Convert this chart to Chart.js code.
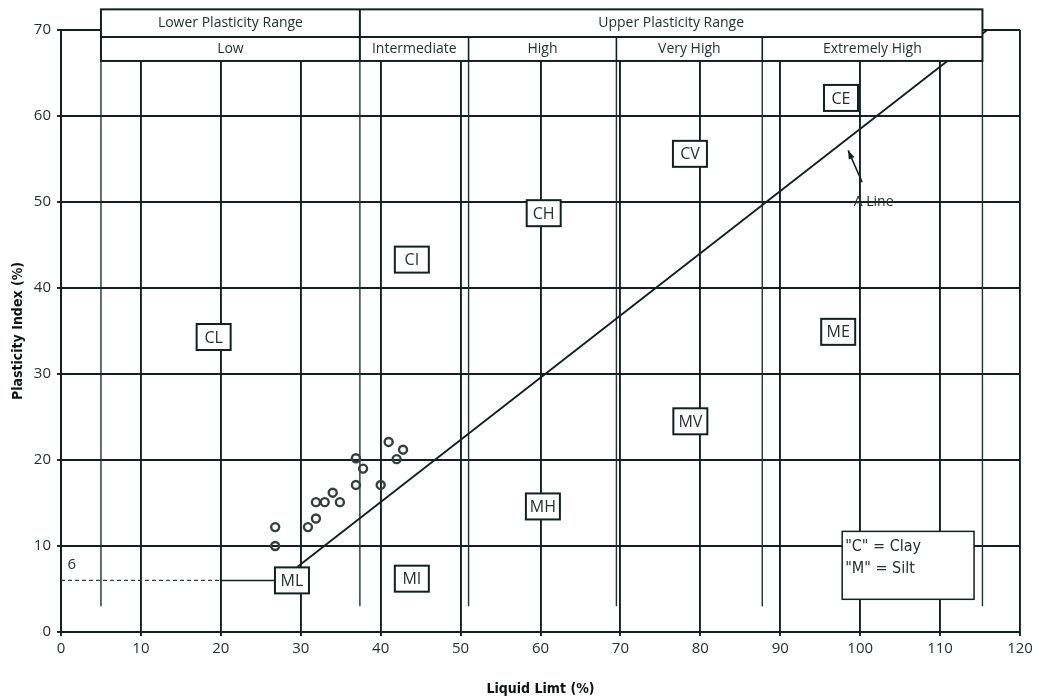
<!DOCTYPE html>
<html><head><meta charset="utf-8">
<script src="https://cdn.jsdelivr.net/npm/chart.js@4"></script>
<style>html,body{margin:0;padding:0;background:#fff}#wrap{width:1038px;height:700px}</style>
</head><body><div id="wrap"><canvas id="c" width="1038" height="700"></canvas></div>
<script>
// ---- data ----
const llValues = [26.8, 26.8, 30.9, 31.9, 31.9, 33.0, 34.0, 34.9, 36.9, 37.8, 36.9, 40.0, 41.0, 42.0, 42.8];
const piValues = [12.2, 10.0, 12.2, 13.2, 15.1, 15.1, 16.2, 15.1, 20.2, 19.0, 17.1, 17.1, 22.1, 20.1, 21.2];

const aLineLL = [29.6, 115.9];
const aLinePI = [7.6, 70];

const minPI = 6;
const minPIDashedLL = [0, 20];
const minPISolidLL = [20, 26.8];

const boundaryLL = [5, 37.4, 51, 69.5, 87.75, 115.3];
const boundaryPI = [3, 66.4];

const classLabels = ['CL', 'CI', 'CH', 'CV', 'CE', 'ME', 'MV', 'MH', 'MI', 'ML'];
const classLL = [19.1, 43.9, 60.4, 78.7, 97.6, 97.25, 78.75, 60.3, 43.9, 28.9];
const classPI = [34.3, 43.3, 48.7, 55.6, 62.1, 34.9, 24.5, 14.6, 6.2, 6.0];

const rangeTopLabels = ['Lower Plasticity Range', 'Upper Plasticity Range'];
const rangeTopLL = [5, 37.4, 115.3];
const rangeLabels = ['Low', 'Intermediate', 'High', 'Very High', 'Extremely High'];
const rangeLL = [5, 37.4, 51, 69.5, 87.75, 115.3];
const headerPI = [72.4, 69.2, 66.4];

const legendLines = ['"C" = Clay', '"M" = Silt'];
const xTickStep = 10;
const yTickStep = 10;

// ---- styles ----
const LINE = '#142020';
const TEXT = '#26302f';
const SANS = "'Open Sans', 'DejaVu Sans', sans-serif";
const NARROW = "'Liberation Sans Narrow', 'DejaVu Sans Condensed', sans-serif";

const pts = (xs, ys) => xs.map((x, i) => ({x, y: ys[i]}));
const lineDs = (data, extra) => Object.assign({
  data, showLine: true, pointRadius: 0, borderColor: LINE, borderWidth: 1.8, fill: false, order: 2
}, extra || {});

const datasets = [];
datasets.push({
  data: pts(llValues, piValues), pointStyle: 'circle', pointRadius: 4,
  pointBorderWidth: 2.4, borderColor: '#363e3e', backgroundColor: 'rgba(255,255,255,0)', showLine: false, order: 0
});
datasets.push(lineDs(pts(aLineLL, aLinePI), {borderWidth: 1.9}));
datasets.push(lineDs(pts(minPIDashedLL, [minPI, minPI]), {borderDash: [4, 3], borderWidth: 1.3, borderColor: '#344040'}));
datasets.push(lineDs(pts(minPISolidLL, [minPI, minPI]), {borderWidth: 1.5}));
boundaryLL.forEach(b => datasets.push(lineDs(pts([b, b], boundaryPI), {borderWidth: 1.4, borderColor: '#243030'})));

const overlay = {
  id: 'overlay',
  afterDatasetsDraw(chart) {
    const {ctx, scales: {x, y}} = chart;
    const X = v => x.getPixelForValue(v), Y = v => y.getPixelForValue(v);
    ctx.save();
    ctx.strokeStyle = LINE;
    ctx.fillStyle = TEXT;
    ctx.textAlign = 'center';
    ctx.textBaseline = 'middle';

    // header table
    const top = Y(headerPI[0]), mid = Y(headerPI[1]), bot = Y(headerPI[2]);
    ctx.fillStyle = '#fff';
    ctx.fillRect(X(rangeTopLL[0]), top, X(rangeTopLL[2]) - X(rangeTopLL[0]), bot - top);
    ctx.lineWidth = 2;
    ctx.strokeRect(X(rangeTopLL[0]), top, X(rangeTopLL[2]) - X(rangeTopLL[0]), bot - top);
    ctx.beginPath(); ctx.moveTo(X(rangeTopLL[0]), mid); ctx.lineTo(X(rangeTopLL[2]), mid); ctx.stroke();
    ctx.beginPath(); ctx.moveTo(X(rangeTopLL[1]), top); ctx.lineTo(X(rangeTopLL[1]), bot); ctx.stroke();
    ctx.lineWidth = 1.6;
    for (let i = 1; i < rangeLL.length - 1; i++) {
      if (rangeLL[i] === rangeTopLL[1]) continue;
      ctx.beginPath(); ctx.moveTo(X(rangeLL[i]), mid); ctx.lineTo(X(rangeLL[i]), bot); ctx.stroke();
    }
    ctx.fillStyle = TEXT;
    ctx.font = '14px ' + SANS;
    rangeTopLabels.forEach((t, i) => ctx.fillText(t, (X(rangeTopLL[i]) + X(rangeTopLL[i + 1])) / 2, (top + mid) / 2));
    rangeLabels.forEach((t, i) => ctx.fillText(t, (X(rangeLL[i]) + X(rangeLL[i + 1])) / 2, (mid + bot) / 2));

    // class label boxes
    ctx.font = '16px ' + SANS;
    classLabels.forEach((t, i) => {
      const cx = X(classLL[i]), cy = Y(classPI[i]), w = 34, h = 26;
      ctx.fillStyle = '#fff';
      ctx.fillRect(cx - w / 2, cy - h / 2, w, h);
      ctx.lineWidth = 2;
      ctx.strokeRect(cx - w / 2, cy - h / 2, w, h);
      ctx.fillStyle = TEXT;
      ctx.fillText(t, cx, cy + 1);
    });

    // legend box
    const lx0 = X(97.75), lx1 = X(114.25), ly0 = Y(11.7), ly1 = Y(3.8);
    ctx.fillStyle = '#fff';
    ctx.fillRect(lx0, ly0, lx1 - lx0, ly1 - ly0);
    ctx.lineWidth = 1.5;
    ctx.strokeRect(lx0, ly0, lx1 - lx0, ly1 - ly0);
    ctx.fillStyle = TEXT;
    ctx.textAlign = 'left';
    ctx.font = '16px ' + NARROW;
    legendLines.forEach((t, i) => ctx.fillText(t, lx0 + 3, ly0 + 15 + i * 22));

    // A Line label + arrow
    ctx.font = '14px ' + SANS;
    ctx.fillText('A Line', X(99.2), Y(50));
    const ax0 = X(100.25), ay0 = Y(52.3), ax1 = X(98.5), ay1 = Y(56.0);
    ctx.lineWidth = 1.6;
    ctx.beginPath(); ctx.moveTo(ax0, ay0); ctx.lineTo(ax1, ay1); ctx.stroke();
    const ang = Math.atan2(ay1 - ay0, ax1 - ax0);
    ctx.beginPath();
    ctx.moveTo(ax1, ay1);
    ctx.lineTo(ax1 - 9 * Math.cos(ang - 0.35), ay1 - 9 * Math.sin(ang - 0.35));
    ctx.lineTo(ax1 - 9 * Math.cos(ang + 0.35), ay1 - 9 * Math.sin(ang + 0.35));
    ctx.closePath();
    ctx.fillStyle = LINE; ctx.fill();

    // "6" label
    ctx.fillStyle = TEXT;
    ctx.font = '15px ' + SANS;
    ctx.textAlign = 'left';
    ctx.fillText(String(minPI), X(0.8), Y(7.8));
    ctx.restore();
  }
};

new Chart(document.getElementById('c'), {
  type: 'scatter',
  data: {datasets},
  options: {
    responsive: false, animation: false, events: [],
    layout: {padding: {top: 30, right: 18, left: 0, bottom: 0}},
    plugins: {legend: {display: false}, tooltip: {enabled: false}},
    scales: {
      x: {
        type: 'linear', min: 0, max: 120,
        afterFit: s => { s.height = 68; },
        ticks: {stepSize: xTickStep, color: TEXT, font: {family: SANS, size: 15}, padding: 4},
        grid: {color: LINE, lineWidth: 1.9, tickLength: 4},
        border: {display: true, color: LINE, width: 2},
        title: {display: true, text: 'Liquid Limt (%)', color: '#0e1414', font: {family: NARROW, size: 14, weight: 'bold'}, padding: {top: 0, bottom: 2}}
      },
      y: {
        type: 'linear', min: 0, max: 70,
        afterFit: s => { s.width = 61; },
        ticks: {stepSize: yTickStep, color: TEXT, font: {family: SANS, size: 15}, padding: 6},
        grid: {color: LINE, lineWidth: 1.9, tickLength: 4},
        border: {display: true, color: LINE, width: 2},
        title: {display: true, text: 'Plasticity Index (%)', color: '#0e1414', font: {family: NARROW, size: 14, weight: 'bold'}, padding: {top: 10, bottom: 0}}
      }
    }
  },
  plugins: [overlay]
});
</script></body></html>
